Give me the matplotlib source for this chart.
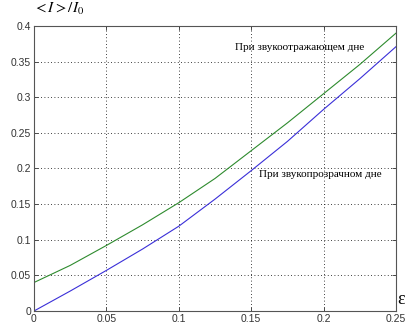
import matplotlib
matplotlib.use("Agg")
import matplotlib.pyplot as plt

eps = [0, 0.025, 0.05, 0.075, 0.1, 0.125, 0.15, 0.175, 0.2, 0.225, 0.25]
reflect = [0.04, 0.064, 0.092, 0.121, 0.152, 0.186, 0.225, 0.264, 0.305, 0.346, 0.39]
transp = [0.0, 0.028, 0.057, 0.087, 0.119, 0.157, 0.197, 0.238, 0.283, 0.326, 0.371]
xticks = [0, 0.05, 0.1, 0.15, 0.2, 0.25]
xticklabels = ["0", "0.05", "0.1", "0.15", "0.2", "0.25"]
yticks = [0, 0.05, 0.1, 0.15, 0.2, 0.25, 0.3, 0.35, 0.4]
yticklabels = ["0", "0.05", "0.1", "0.15", "0.2", "0.25", "0.3", "0.35", "0.4"]
label_reflect = "При звукоотражающем дне"
label_transp = "При звукопрозрачном дне"

plt.rcParams['mathtext.fontset'] = 'stix'
fig = plt.figure(figsize=(4.06, 3.31), dpi=100)
ax = fig.add_axes([34/406, 1-311/331, (396-34)/406, (311-26)/331])
ax.plot(eps, reflect, color='#2e8b2e', lw=0.8)
ax.plot(eps, transp, color='#3a2fd8', lw=0.8)
ax.set_xlim(0, 0.25)
ax.set_ylim(0, 0.4)
ax.set_xticks(xticks)
ax.set_xticklabels(xticklabels)
ax.set_yticks(yticks)
ax.set_yticklabels(yticklabels)
ax.grid(True, linestyle=(0, (1, 3)), color='black', lw=0.6)
ax.tick_params(direction='in', labelsize=7.5, length=3, width=0.6, pad=2,
               top=True, right=True, colors='#333333')
for lab in ax.get_xticklabels() + ax.get_yticklabels():
    lab.set_family('Liberation Sans')
for s in ax.spines.values():
    s.set_color('#555555')
    s.set_linewidth(0.8)

fig.text(33/406, 1-9/331, r'${<}I{>}/I_{\mathit{0}}$', fontsize=11, va='center', ha='left')
fig.text(397/406, 1-300/331, 'ε', fontsize=13, va='center', ha='left', family='Liberation Serif')
ax.text(0.1837, 0.3705, label_reflect, fontsize=8, family='Liberation Serif', ha='center', va='center')
ax.text(0.198, 0.191, label_transp, fontsize=8, family='Liberation Serif', ha='center', va='center')
fig.savefig('out.png', dpi=100)
